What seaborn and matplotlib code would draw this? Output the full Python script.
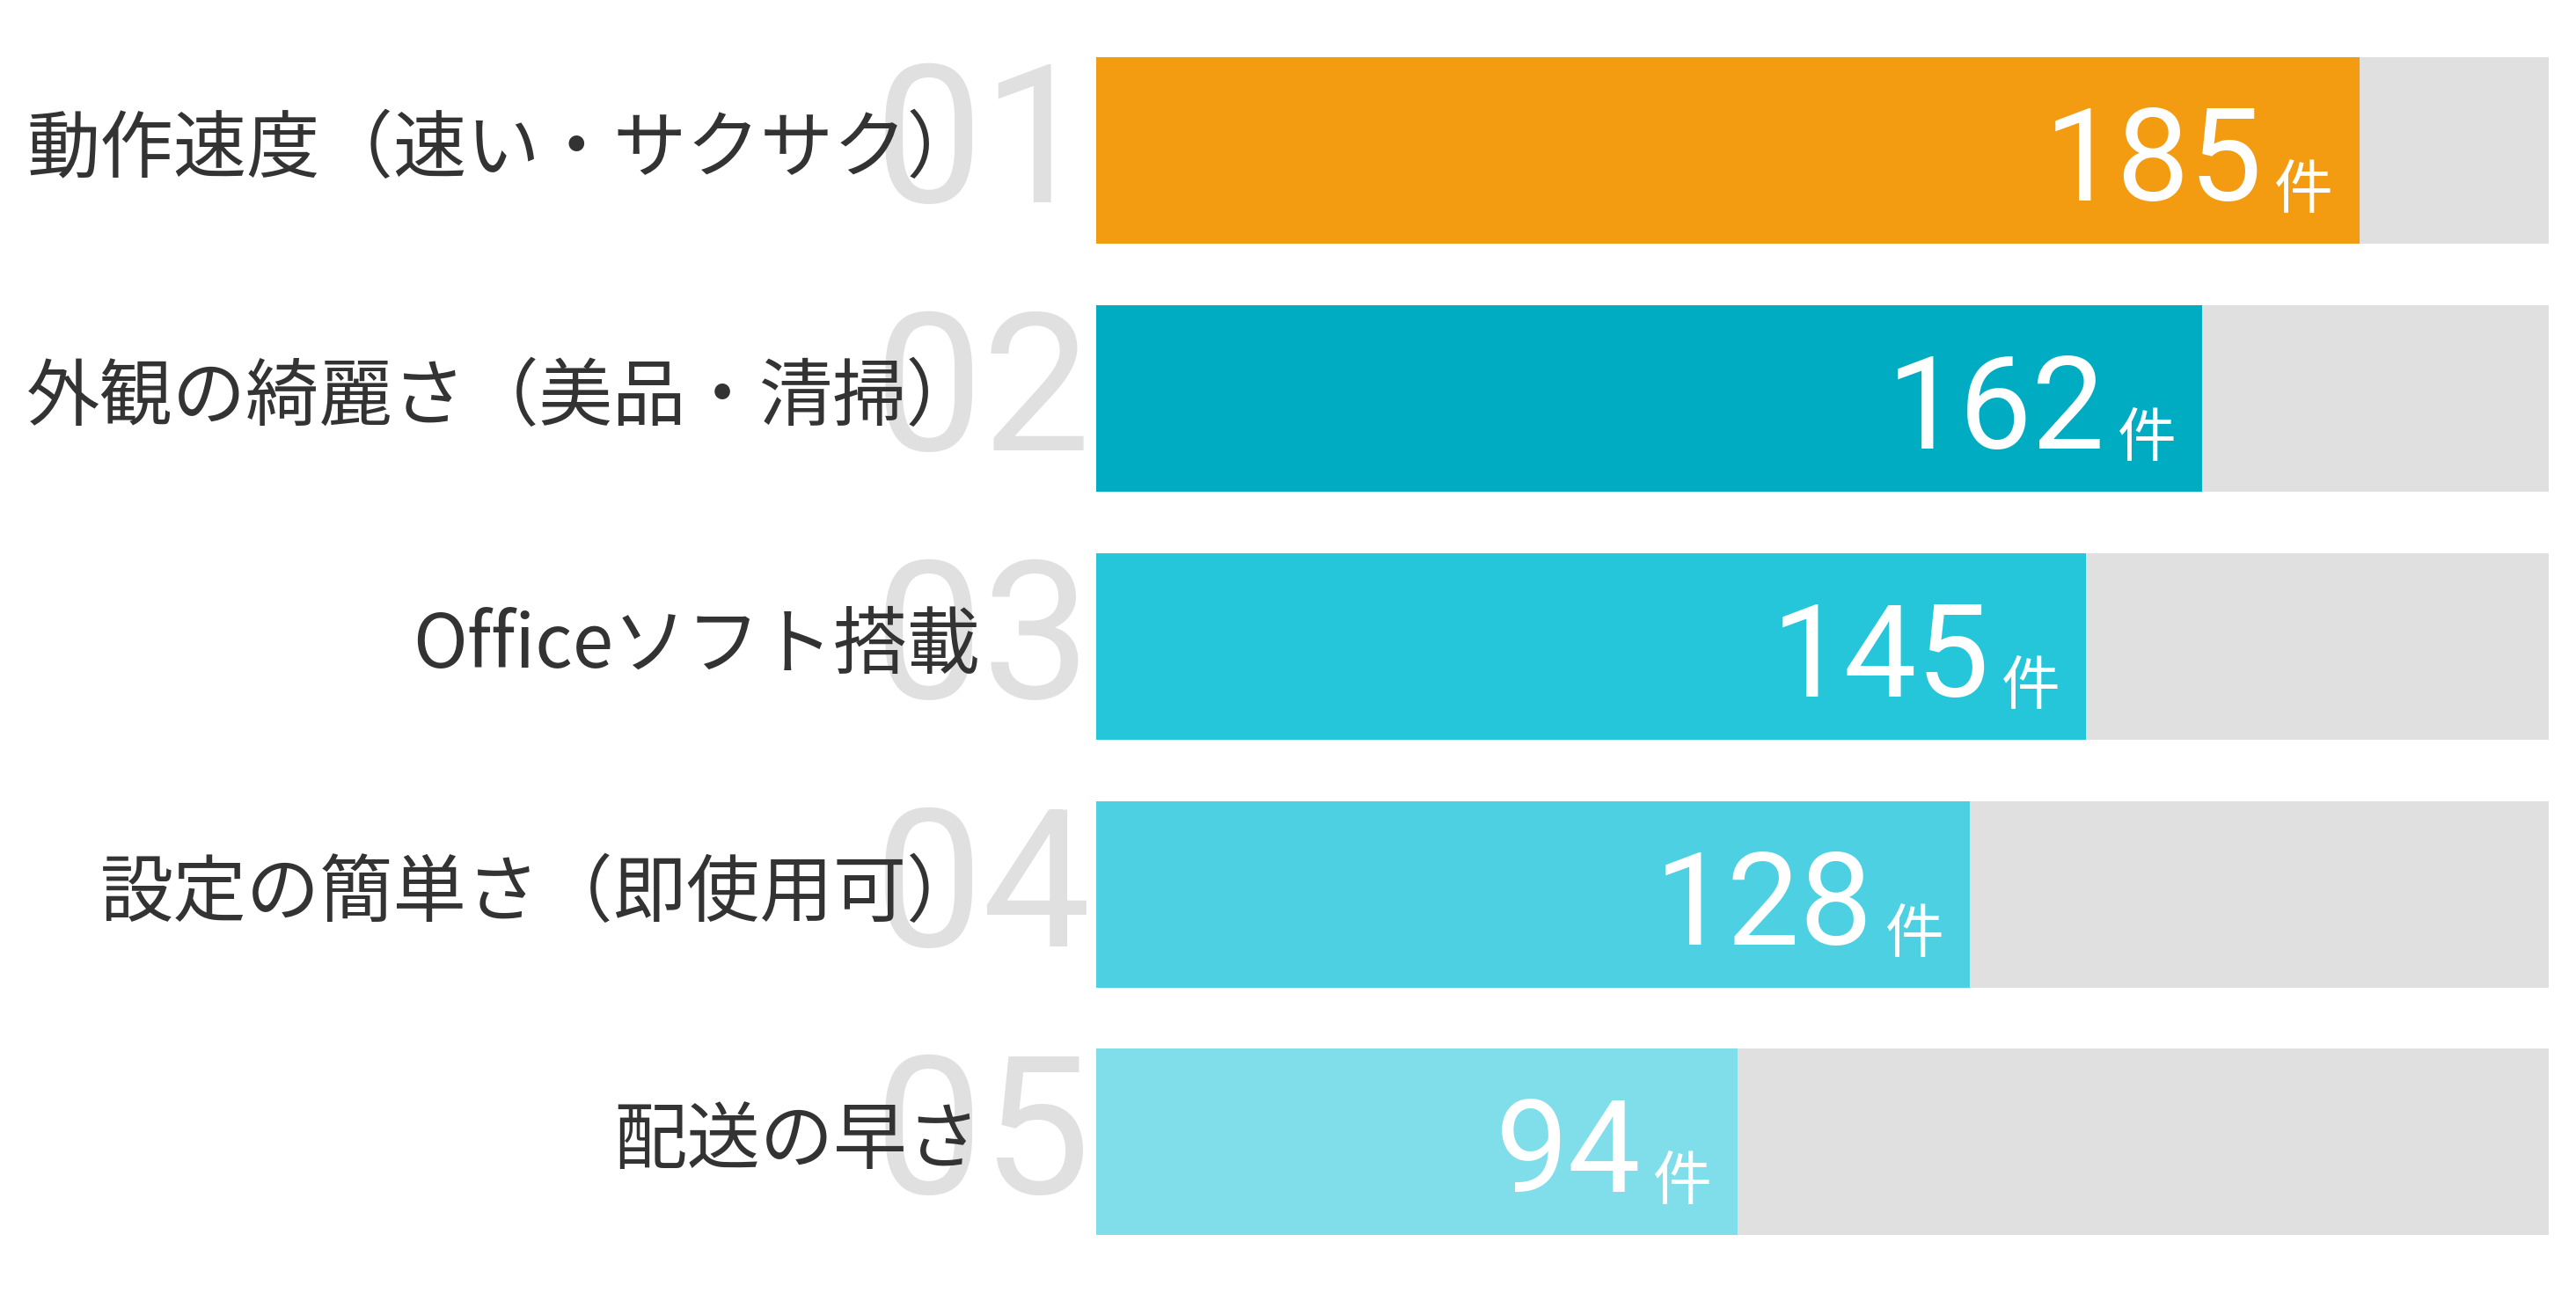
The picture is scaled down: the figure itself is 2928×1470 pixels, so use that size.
import matplotlib
matplotlib.use('Agg')
import matplotlib.pyplot as plt
import seaborn as sns
import pandas as pd

categories = ['動作速度（速い・サクサク）', '外観の綺麗さ（美品・清掃）', 'Officeソフト搭載',
              '設定の簡単さ（即使用可）', '配送の早さ']
counts = [185, 162, 145, 128, 94]
ranks = ['01', '02', '03', '04', '05']
colors = ['#F39C12', '#00ACC1', '#26C6DA', '#4DD0E1', '#80DEEA']
unit = '件'

sns.set_style('white')
plt.rcParams['font.family'] = ['Noto Sans CJK JP', 'DejaVu Sans']

track = max(counts) * 1.15
df = pd.DataFrame({'category': categories, 'count': counts,
                   'track': [track] * len(counts)})

fig = plt.figure(figsize=(29.28, 14.70), dpi=100)
ax = fig.add_axes([0.42555, 0.02082, 0.56387, 0.95875])

# background track, then the value bars
sns.barplot(data=df, x='track', y='category', color='#E0E0E0', width=0.752,
            orient='h', saturation=1, linewidth=0, ax=ax)
sns.barplot(data=df, x='count', y='category', hue='category', palette=colors,
            width=0.752, orient='h', saturation=1, linewidth=0,
            legend=False, ax=ax)

ax.set_xlim(0, track)
ax.set_ylim(len(categories) - 0.5, -0.5)
ax.axis('off')

for i, (cat, n, r) in enumerate(zip(categories, counts, ranks)):
    # big rank number behind the label
    ax.annotate(r, xy=(0, i), xycoords=('axes fraction', 'data'),
                xytext=(-6, -59), textcoords='offset pixels',
                ha='right', va='baseline', fontsize=158, color='#E0E0E0',
                family=['Roboto', 'DejaVu Sans'], zorder=1)
    # category label
    ax.annotate(cat, xy=(0, i), xycoords=('axes fraction', 'data'),
                xytext=(-132, -24), textcoords='offset pixels',
                ha='right', va='baseline', fontsize=60, color='#333333',
                annotation_clip=False, zorder=3)
    # value inside bar
    ax.annotate(str(n), xy=(n, i), xycoords='data',
                xytext=(-110, -57), textcoords='offset pixels',
                ha='right', va='baseline', fontsize=106, color='white',
                family=['Roboto', 'DejaVu Sans'], zorder=4)
    ax.annotate(unit, xy=(n, i), xycoords='data',
                xytext=(-30, -66), textcoords='offset pixels',
                ha='right', va='baseline', fontsize=48, color='white', zorder=4)

fig.savefig('out.png', dpi=100, facecolor='white')
